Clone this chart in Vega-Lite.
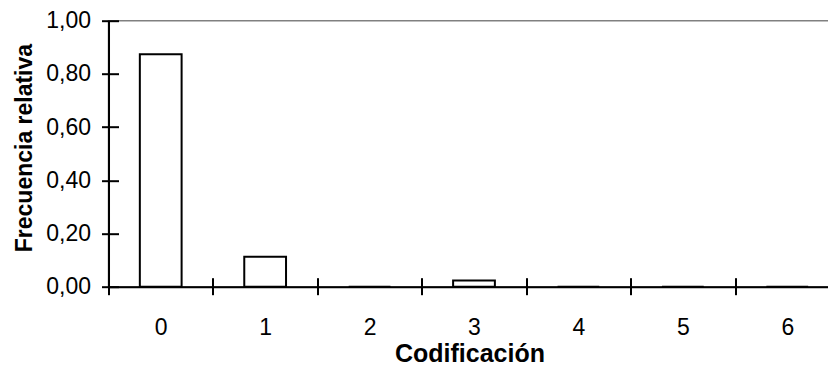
{
  "$schema": "https://vega.github.io/schema/vega-lite/v6.json",
  "autosize": {"type": "none"},
  "padding": {"left": 108.5, "top": 20.7, "right": 0, "bottom": 80},
  "width": 731,
  "height": 266,
  "background": "white",
  "config": {
    "locale": {"number": {"decimal": ",", "thousands": ".", "grouping": [3], "currency": ["", " €"]}},
    "view": {"stroke": "#808080", "strokeWidth": 1.5},
    "font": "Liberation Sans"
  },
  "data": {
    "values": [
      {"codigo": "0", "frecuencia": 0.874},
      {"codigo": "1", "frecuencia": 0.113},
      {"codigo": "2", "frecuencia": 0.0},
      {"codigo": "3", "frecuencia": 0.023},
      {"codigo": "4", "frecuencia": 0.0},
      {"codigo": "5", "frecuencia": 0.0},
      {"codigo": "6", "frecuencia": 0.0}
    ]
  },
  "resolve": {"axis": {"x": "independent", "y": "independent"}},
  "layer": [
    {
      "mark": {"type": "bar", "width": {"band": 0.4}, "fill": "white", "stroke": "black", "strokeWidth": 2},
      "encoding": {
        "x": {
          "field": "codigo", "type": "ordinal",
          "scale": {"paddingInner": 0, "paddingOuter": 0},
          "axis": {
            "orient": "bottom",
            "title": "Codificación",
            "titleFont": "Liberation Sans", "titleFontSize": 25, "titleFontWeight": "bold", "titleColor": "black",
            "titleX": 361, "titleY": 75, "titleAnchor": null, "titleAlign": "center", "titleBaseline": "alphabetic",
            "labelAngle": 0, "labelFont": "Liberation Sans", "labelFontSize": 23, "labelColor": "black",
            "labelBaseline": "alphabetic", "labelPadding": 40,
            "tickBand": "extent", "tickSize": 8, "tickColor": "black", "tickWidth": 2,
            "domainColor": "black", "domainWidth": 2, "grid": false
          }
        },
        "y": {
          "field": "frecuencia", "type": "quantitative",
          "scale": {"domain": [0, 1], "nice": false},
          "axis": {
            "orient": "left",
            "title": "Frecuencia relativa",
            "titleFont": "Liberation Sans", "titleFontSize": 23, "titleFontWeight": "bold", "titleColor": "black",
            "titleAngle": 270, "titleAlign": "left", "titleBaseline": "alphabetic",
            "titleX": -77, "titleY": 231, "titleAnchor": null,
            "values": [0, 0.2, 0.4, 0.6, 0.8, 1.0], "format": ".2f",
            "labelFont": "Liberation Sans", "labelFontSize": 23, "labelColor": "black", "labelPadding": 11,
            "tickSize": 7, "tickColor": "black", "tickWidth": 2,
            "domainColor": "black", "domainWidth": 2, "grid": false
          }
        }
      }
    },
    {
      "mark": {"type": "bar", "width": {"band": 0.4}, "opacity": 0},
      "encoding": {
        "x": {
          "field": "codigo", "type": "ordinal",
          "axis": {"orient": "bottom", "title": null, "labels": false, "domain": false, "grid": false,
                   "tickBand": "extent", "tickSize": -9, "tickColor": "black", "tickWidth": 2}
        },
        "y": {
          "field": "frecuencia", "type": "quantitative",
          "axis": {"orient": "left", "title": null, "labels": false, "domain": false, "grid": false,
                   "values": [0, 0.2, 0.4, 0.6, 0.8, 1.0],
                   "tickSize": -10, "tickColor": "black", "tickWidth": 2}
        }
      }
    }
  ]
}
